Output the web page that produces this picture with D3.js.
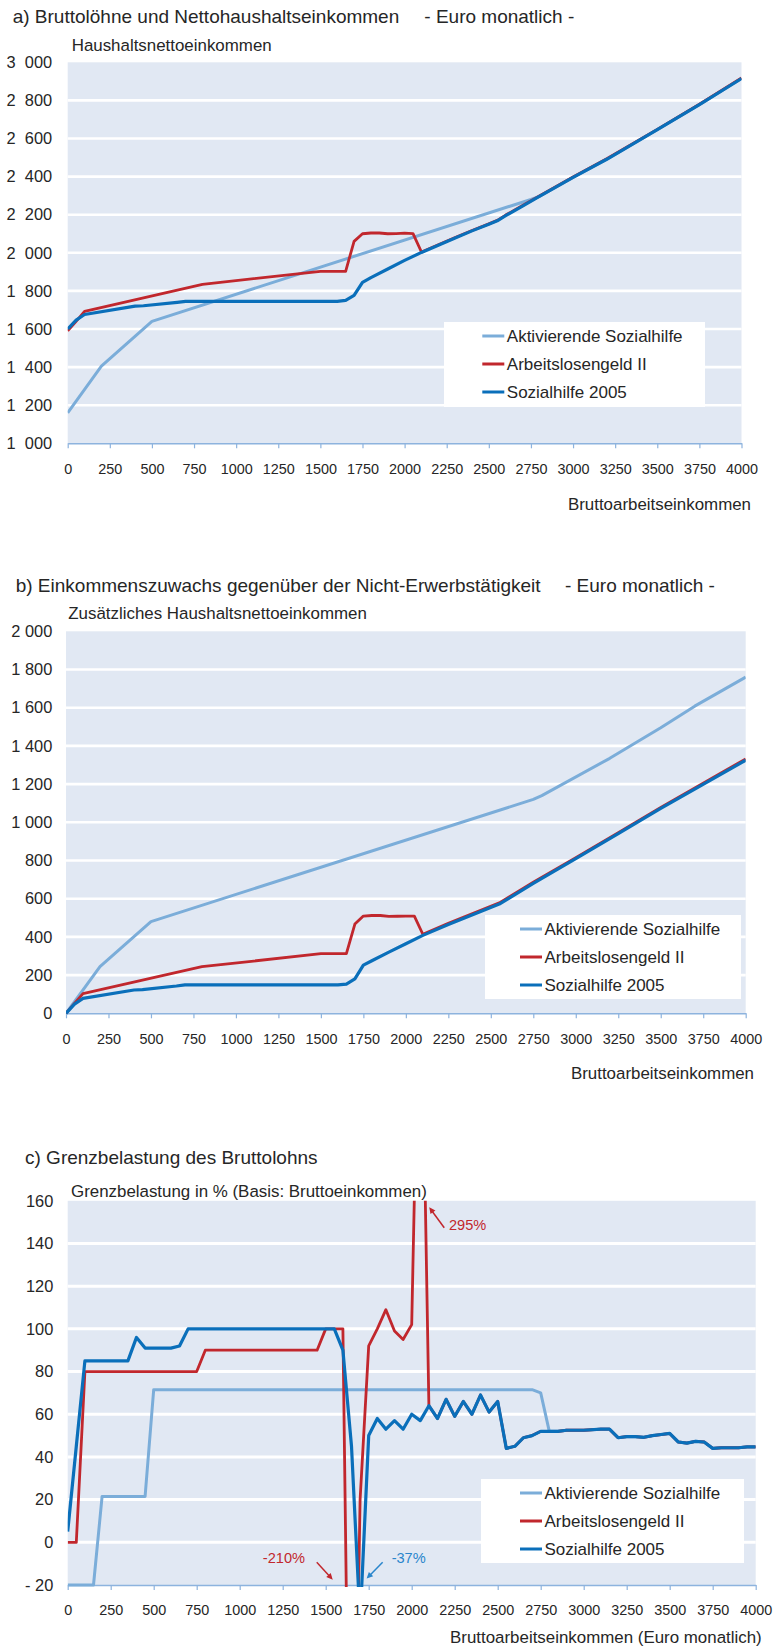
<html>

<head>
    <meta charset="utf-8">
    <script src="https://d3js.org/d3.v7.min.js"></script>
</head>

<body style="margin:0;background:white">
    <svg></svg>
    <script>
        // series names and colours
        const seriesNames = ["Aktivierende Sozialhilfe", "Arbeitslosengeld II", "Sozialhilfe 2005"]
        const seriesColors = ["#7badd9", "#c1272d", "#0a6fba"]

        // x ticks (gross income, euro per month)
        const xTickValues = [0, 250, 500, 750, 1000, 1250, 1500, 1750, 2000, 2250, 2500, 2750, 3000, 3250, 3500, 3750, 4000]

        // a) net household income
        const yTicksA = [1000, 1200, 1400, 1600, 1800, 2000, 2200, 2400, 2600, 2800, 3000]
        const aktivA = [[0, 1160], [200, 1405], [500, 1640], [2750, 2280], [2800, 2296], [3000, 2396], [3200, 2491], [3500, 2646], [3750, 2778], [4000, 2915]]
        const alg2A = [[0, 1590], [50, 1640], [100, 1692], [800, 1834], [1500, 1903], [1650, 1903], [1700, 2060], [1750, 2100], [1800, 2104], [1850, 2104], [1900, 2100], [1950, 2101], [2000, 2103], [2050, 2101], [2100, 2004],
            [2200, 2042], [2300, 2080], [2400, 2117], [2500, 2152], [2550, 2170], [2600, 2198], [2700, 2248], [2800, 2298], [3000, 2398], [3200, 2494], [3500, 2648], [3750, 2780], [4000, 2918]]
        const sh2005A = [[0, 1600], [50, 1647], [100, 1676], [400, 1720], [450, 1722], [650, 1740], [700, 1745], [1600, 1745], [1650, 1750], [1700, 1776], [1750, 1845], [1800, 1870], [1900, 1915], [2000, 1960],
            [2100, 2002], [2200, 2040], [2300, 2078], [2400, 2115], [2500, 2150], [2550, 2168], [2600, 2195], [2700, 2245], [2800, 2296], [3000, 2396], [3200, 2491], [3500, 2646], [3750, 2778], [4000, 2915]]

        // b) additional net income compared to not working
        const yTicksB = [0, 200, 400, 600, 800, 1000, 1200, 1400, 1600, 1800, 2000]
        const aktivB = [[0, 0], [200, 244], [500, 480], [2750, 1120], [2800, 1140], [3200, 1335], [3500, 1495], [3700, 1608], [4000, 1760]]
        const alg2B = [[0, 0], [50, 52], [100, 103], [800, 244], [1500, 312], [1650, 312], [1700, 467], [1750, 509], [1800, 512], [1850, 512], [1900, 507], [1950, 508], [2000, 509], [2050, 509], [2100, 414],
            [2250, 471], [2550, 578], [2750, 686], [3000, 815], [3250, 946], [3500, 1078], [4000, 1332]]
        const sh2005B = [[0, 0], [50, 48], [100, 78], [400, 122], [450, 124], [650, 143], [700, 149], [1600, 149], [1650, 153], [1700, 180], [1750, 252], [1800, 275], [1900, 320], [2000, 364],
            [2100, 408], [2250, 465], [2550, 572], [2750, 680], [3000, 810], [3250, 941], [3500, 1073], [4000, 1325]]

        // c) marginal burden in % of gross income
        const yTicksC = [-20, 0, 20, 40, 60, 80, 100, 120, 140, 160]
        const aktivC = [[0, -20], [150, -20], [200, 21.5], [450, 21.5], [500, 71.5], [2700, 71.5], [2750, 70], [2800, 52],
            [2850, 52], [2900, 52.5], [3000, 52.5], [3100, 53], [3150, 53], [3200, 49], [3250, 49.5], [3300, 49.5], [3350, 49.2], [3400, 50], [3450, 50.5], [3500, 51],
            [3550, 47], [3600, 46.5], [3650, 47.3], [3700, 47], [3750, 44], [3800, 44.3], [3900, 44.3], [3950, 44.7], [4000, 44.7]]
        const alg2C = [[0, 0], [50, 0], [100, 80], [750, 80], [800, 90], [1450, 90], [1500, 100], [1600, 100], [1650, -210], [1700, 20], [1750, 92], [1800, 100], [1850, 109], [1900, 99], [1950, 95], [2000, 102], [2050, 295], [2100, 64],
            [2150, 58], [2200, 67], [2250, 59], [2300, 66], [2350, 60], [2400, 69], [2450, 61], [2500, 66], [2550, 44], [2600, 45], [2650, 49], [2700, 50], [2750, 52], [2800, 52],
            [2850, 52], [2900, 52.5], [3000, 52.5], [3100, 53], [3150, 53], [3200, 49], [3250, 49.5], [3300, 49.5], [3350, 49.2], [3400, 50], [3450, 50.5], [3500, 51],
            [3550, 47], [3600, 46.5], [3650, 47.3], [3700, 47], [3750, 44], [3800, 44.3], [3900, 44.3], [3950, 44.7], [4000, 44.7]]
        const sh2005C = [[0, 5], [50, 45], [100, 85], [350, 85], [400, 96], [450, 91], [600, 91], [650, 92], [700, 100], [1550, 100], [1600, 90], [1650, 45], [1700, -37], [1750, 50], [1800, 58], [1850, 53], [1900, 57], [1950, 53], [2000, 60], [2050, 57], [2100, 64],
            [2150, 58], [2200, 67], [2250, 59], [2300, 66], [2350, 60], [2400, 69], [2450, 61], [2500, 66], [2550, 44], [2600, 45], [2650, 49], [2700, 50], [2750, 52], [2800, 52],
            [2850, 52], [2900, 52.5], [3000, 52.5], [3100, 53], [3150, 53], [3200, 49], [3250, 49.5], [3300, 49.5], [3350, 49.2], [3400, 50], [3450, 50.5], [3500, 51],
            [3550, 47], [3600, 46.5], [3650, 47.3], [3700, 47], [3750, 44], [3800, 44.3], [3900, 44.3], [3950, 44.7], [4000, 44.7]]

        // annotations in chart c: label, target point (data units), colour
        const annoLabels = ["295%", "-210%", "-37%"]
        const annoTargets = [[2102, 157], [1541, -17.5], [1738, -17]]
        const annoColors = ["#c1272d", "#c1272d", "#2a86cc"]

        const width = 775
        const height = 1649
        const textColor = "#262626"
        const plotBg = "#e1e8f3"
        const axisColor = "#8db3de"
        const fontFamily = "'Liberation Sans', Arial, Helvetica, sans-serif"

        const svg = d3.select("svg")
            .attr("width", width)
            .attr("height", height)
            .attr("viewBox", [0, 0, width, height])
            .style("font-family", fontFamily)

        const thousands = sep => d => d >= 1000 ? Math.floor(d / 1000) + sep + String(d % 1000).padStart(3, "0") : String(d)

        function addText(x, y, txt, size, anchor, color) {
            return svg.append("text")
                .attr("x", x).attr("y", y)
                .attr("text-anchor", anchor || "start")
                .attr("fill", color || textColor)
                .style("font-size", size + "px")
                .text(txt)
        }

        function drawPanel(p) {
            const xScale = d3.scaleLinear().domain([0, 4000]).range([p.left, p.right])
            const yScale = d3.scaleLinear().domain(p.yDomain).range([p.bottom, p.top])
            const g = svg.append("g")

            g.append("rect")
                .attr("x", p.left).attr("y", p.top)
                .attr("width", p.right - p.left).attr("height", p.bottom - p.top)
                .attr("fill", plotBg)

            // white grid lines, none at top and bottom
            g.selectAll(".grid").data(p.yTicks.slice(1, -1)).join("line")
                .attr("x1", p.left).attr("x2", p.right)
                .attr("y1", d => yScale(d)).attr("y2", d => yScale(d))
                .attr("stroke", "#fff").attr("stroke-width", p.gridWidth)

            // x axis
            g.append("g")
                .attr("transform", `translate(0,${p.bottom})`)
                .call(d3.axisBottom(xScale).tickValues(xTickValues).tickFormat(d => String(d))
                    .tickSize(5).tickSizeOuter(0).tickPadding(15))
                .attr("font-family", null).attr("font-size", null)
                .call(a => a.select(".domain").attr("stroke", axisColor).attr("stroke-width", 1.5))
                .call(a => a.selectAll(".tick line").attr("stroke", axisColor).attr("stroke-width", 1.2))
                .call(a => a.selectAll(".tick text").attr("fill", textColor).style("font-size", "14.4px"))

            // y axis
            g.append("g")
                .attr("transform", `translate(${p.left},0)`)
                .call(d3.axisLeft(yScale).tickValues(p.yTicks).tickSize(0).tickPadding(p.yPad).tickFormat(p.yFormat))
                .attr("font-family", null).attr("font-size", null)
                .call(a => a.select(".domain").remove())
                .call(a => a.selectAll(".tick text").attr("fill", textColor).style("font-size", "16.4px"))

            // lines, clipped to the plot area
            const clipId = "clip-" + p.id
            svg.append("clipPath").attr("id", clipId)
                .append("rect")
                .attr("x", p.left).attr("y", p.top)
                .attr("width", p.right - p.left).attr("height", p.bottom - p.top + 2)

            const line = d3.line()
                .x(d => xScale(d[0]))
                .y(d => yScale(d[1]))

            g.append("g").attr("clip-path", `url(#${clipId})`)
                .selectAll("path").data(p.series).join("path")
                .attr("fill", "none")
                .attr("stroke", (d, i) => seriesColors[i])
                .attr("stroke-width", (d, i) => [3, 2.8, 3.2][i])
                .attr("stroke-linejoin", "round")
                .attr("d", d => line(d))

            // legend
            const lg = g.append("g")
            lg.append("rect")
                .attr("x", p.legend.x).attr("y", p.legend.y)
                .attr("width", p.legend.w).attr("height", p.legend.h)
                .attr("fill", "#fff")
            seriesNames.forEach((name, i) => {
                const cy = p.legend.y + 14 + i * 28
                lg.append("line")
                    .attr("x1", p.legend.sx).attr("x2", p.legend.sx + 22)
                    .attr("y1", cy).attr("y2", cy)
                    .attr("stroke", seriesColors[i]).attr("stroke-width", 3)
                lg.append("text")
                    .attr("x", p.legend.sx + 24.5).attr("y", cy).attr("dy", "0.35em")
                    .attr("fill", textColor)
                    .style("font-size", "17px")
                    .text(name)
            })

            return { xScale, yScale }
        }

        // ---------- a) ----------
        addText(12.7, 23, "a) Bruttolöhne und Nettohaushaltseinkommen", 19)
        addText(424.3, 23, "- Euro monatlich -", 19)
        addText(71.7, 51, "Haushaltsnettoeinkommen", 16.9)
        drawPanel({
            id: "a", left: 67.7, right: 741.5, top: 62.3, bottom: 443.3,
            yDomain: [1000, 3000], yTicks: yTicksA, yPad: 15.5, gridWidth: 2.6,
            yFormat: thousands("\u00a0\u00a0"),
            series: [aktivA, alg2A, sh2005A],
            legend: { x: 444, y: 322, w: 261, h: 85, sx: 482.3 }
        })
        addText(751, 510, "Bruttoarbeitseinkommen", 16.9, "end")

        // ---------- b) ----------
        addText(15.7, 592, "b) Einkommenszuwachs gegenüber der Nicht-Erwerbstätigkeit", 19)
        addText(565, 592, "- Euro monatlich -", 19)
        addText(68.3, 619, "Zusätzliches Haushaltsnettoeinkommen", 16.9)
        drawPanel({
            id: "b", left: 66, right: 745.7, top: 631.3, bottom: 1013.3,
            yDomain: [0, 2000], yTicks: yTicksB, yPad: 13.7, gridWidth: 2.6,
            yFormat: thousands("\u00a0"),
            series: [aktivB, alg2B, sh2005B],
            legend: { x: 485, y: 915, w: 256, h: 84, sx: 520 }
        })
        addText(754, 1079, "Bruttoarbeitseinkommen", 16.9, "end")

        // ---------- c) ----------
        addText(25, 1164, "c) Grenzbelastung des Bruttolohns", 19)
        addText(71, 1196.7, "Grenzbelastung in % (Basis: Bruttoeinkommen)", 16.9)
        const sc = drawPanel({
            id: "c", left: 67.7, right: 755.7, top: 1200.8, bottom: 1585,
            yDomain: [-20, 160], yTicks: yTicksC, yPad: 14.4, gridWidth: 3,
            yFormat: d => d < 0 ? "-\u00a0" + Math.abs(d) : String(d),
            series: [aktivC, alg2C, sh2005C],
            legend: { x: 481, y: 1479, w: 263, h: 84, sx: 520 }
        })
        addText(761.7, 1643.3, "Bruttoarbeitseinkommen (Euro monatlich)", 16.9, "end")

        // annotation arrows and labels
        const arrowTail = [[15, 20.6], [-16, -17.3], [16, -16.3]]
        const labelOffset = [[19.7, 22.6], [-27.7, -16.7], [25, -16]]
        const labelAnchor = ["start", "end", "start"]
        annoLabels.forEach((lab, i) => {
            const tx = sc.xScale(annoTargets[i][0])
            const ty = sc.yScale(annoTargets[i][1])
            const hx = tx + arrowTail[i][0], hy = ty + arrowTail[i][1]
            const ang = Math.atan2(ty - hy, tx - hx)
            const len = 7, spread = 0.45
            svg.append("line")
                .attr("x1", hx).attr("y1", hy)
                .attr("x2", tx - Math.cos(ang) * 4).attr("y2", ty - Math.sin(ang) * 4)
                .attr("stroke", annoColors[i]).attr("stroke-width", 1.5)
            svg.append("path")
                .attr("d", `M${tx},${ty}L${tx - len * Math.cos(ang - spread)},${ty - len * Math.sin(ang - spread)}L${tx - len * Math.cos(ang + spread)},${ty - len * Math.sin(ang + spread)}Z`)
                .attr("fill", annoColors[i])
            addText(tx + labelOffset[i][0], ty + labelOffset[i][1], lab, 14.6, labelAnchor[i], annoColors[i])
        })
    </script>
</body>

</html>
